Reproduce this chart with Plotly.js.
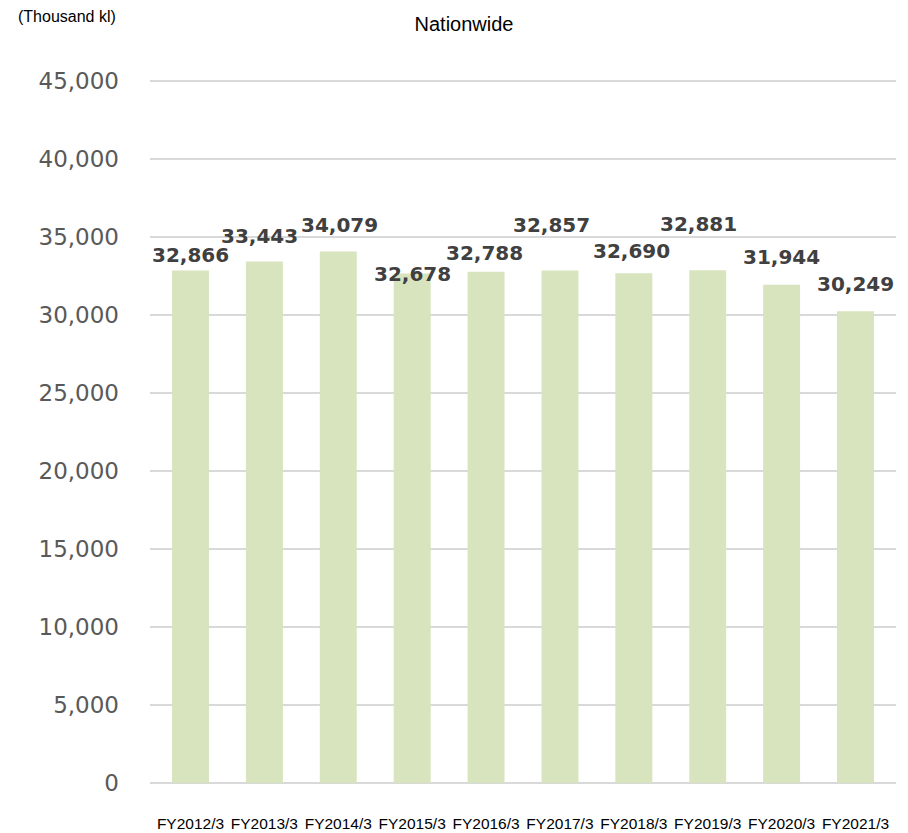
<!DOCTYPE html>
<html>
<head>
<meta charset="utf-8">
<script src="https://cdn.plot.ly/plotly-3.0.1.min.js"></script>
<style>html,body{margin:0;padding:0;background:#fff;}#chart{width:908px;height:833px;}</style>
</head>
<body>
<div id="chart"></div>
<script>
const categories = ["FY2012/3","FY2013/3","FY2014/3","FY2015/3","FY2016/3","FY2017/3","FY2018/3","FY2019/3","FY2020/3","FY2021/3"];
const values = [32866, 33443, 34079, 32678, 32788, 32857, 32690, 32881, 31944, 30249];
const yTickVals = [0, 5000, 10000, 15000, 20000, 25000, 30000, 35000, 40000, 45000];
const yTickText = ["0","5,000","10,000","15,000","20,000","25,000","30,000","35,000","40,000","45,000"];
const chartTitle = "Nationwide";
const unitLabel = "(Thousand kl)";

// label pixel offsets (layout only)
const labelXShift = [0, -5, 1, 0, -2, -8, -2, -9, 0, 0];
const labelYShift = [15, 25, 27, -1, 19, 46, 22, 46, 28, 27];

const fmt = v => v.toLocaleString("en-US");

const annotations = categories.map((c, i) => ({
  x: c, y: values[i], xref: "x", yref: "y",
  text: fmt(values[i]), showarrow: false,
  xanchor: "center", yanchor: "middle",
  xshift: labelXShift[i], yshift: labelYShift[i],
  font: {family: "DejaVu Sans", size: 20, color: "#404040", weight: "bold"}
}));
annotations.push({
  xref: "paper", yref: "paper", x: -0.1113, y: 1.0833,
  xanchor: "center", yanchor: "middle", showarrow: false,
  text: unitLabel,
  font: {family: "Liberation Sans, Arial", size: 16, color: "#000"}
});

const trace = {
  type: "bar", x: categories, y: values,
  marker: {color: "#d7e4bd"},
  hoverinfo: "none"
};

const layout = {
  width: 908, height: 833,
  margin: {l: 150, r: 12, t: 75, b: 50},
  paper_bgcolor: "#fff", plot_bgcolor: "#fff",
  bargap: 0.5,
  showlegend: false,
  title: {
    text: chartTitle, xref: "container", yref: "container",
    x: 464/908, y: 1 - 24/833, xanchor: "center", yanchor: "middle",
    font: {family: "Liberation Sans, Arial", size: 20, color: "#000"}
  },
  xaxis: {
    type: "category", showgrid: false, zeroline: false, showline: false,
    ticks: "", ticklabelstandoff: 29,
    tickfont: {family: "Liberation Sans, Arial", size: 15.5, color: "#000"},
    automargin: false
  },
  yaxis: {
    range: [0, 45400], tickvals: yTickVals, ticktext: yTickText,
    showgrid: true, gridcolor: "#d9d9d9", gridwidth: 1.5,
    zeroline: true, zerolinecolor: "#d9d9d9", zerolinewidth: 2,
    showline: false, ticks: "", ticklabelstandoff: 30,
    tickfont: {family: "DejaVu Sans", size: 23, color: "#595959"},
    automargin: false
  },
  annotations: annotations
};

Plotly.newPlot("chart", [trace], layout, {displayModeBar: false, staticPlot: true});
</script>
</body>
</html>
